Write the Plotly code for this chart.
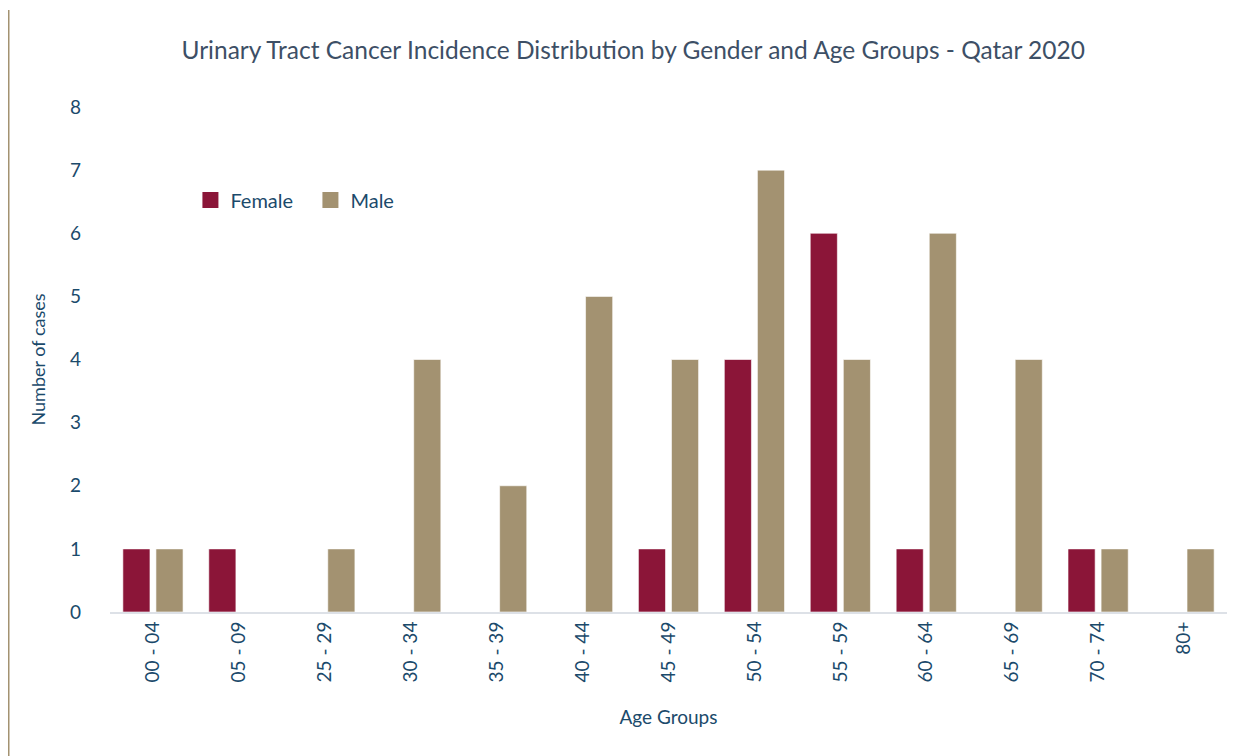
import plotly.graph_objects as go

age_groups = ["00 - 04", "05 - 09", "25 - 29", "30 - 34", "35 - 39", "40 - 44", "45 - 49",
              "50 - 54", "55 - 59", "60 - 64", "65 - 69", "70 - 74", "80+"]
female = [1, 1, None, None, None, None, 1, 4, 6, 1, None, 1, None]
male = [1, None, 1, 4, 2, 5, 4, 7, 4, 6, 4, 1, 1]
series_names = ["Female", "Male"]

FEMALE_C = "#8b1538"
MALE_C = "#a39271"
TEXT_C = "#1b4a6b"
FONT = "Lato, 'Open Sans', sans-serif"

L, R, T, B = 102, 29, 99, 144
W, H = 1248, 748
PW, PH = W - L - R, H - T - B

fig = go.Figure()
for name, vals, col in zip(series_names, [female, male], [FEMALE_C, MALE_C]):
    fig.add_trace(go.Bar(name=name, x=age_groups, y=vals, showlegend=False,
                         marker=dict(color=col, line=dict(color="rgba(255,255,255,0.6)", width=1))))
for name, col in zip(series_names, [FEMALE_C, MALE_C]):
    fig.add_trace(go.Scatter(name=name, x=[None], y=[None], mode="markers",
                             marker=dict(symbol="square", size=18, color=col)))

fig.update_layout(
    width=W, height=H,
    paper_bgcolor="white", plot_bgcolor="white",
    margin=dict(l=L, r=R, t=T, b=B, autoexpand=False),
    barmode="group", bargap=0.23, bargroupgap=0.18,
    font=dict(family=FONT, color=TEXT_C),
    title=dict(text="Urinary Tract Cancer Incidence Distribution by Gender and Age Groups - Qatar 2020",
               x=0.501, xanchor="center", y=(H - 42) / H, yanchor="middle",
               font=dict(size=24.5, color="#3d4f66", family=FONT)),
    legend=dict(orientation="h", x=0.072, y=0.816, xanchor="left", yanchor="middle",
                font=dict(size=20, color=TEXT_C), bgcolor="rgba(0,0,0,0)",
                itemwidth=30, entrywidth=75, entrywidthmode="pixels", traceorder="normal"),
    xaxis=dict(tickangle=-90, tickfont=dict(size=19, color=TEXT_C), showgrid=False,
               showline=True, linecolor="#dde1e7", linewidth=2, ticks="",
               title=dict(text="Age Groups", font=dict(size=19, color=TEXT_C), standoff=29)),
    yaxis=dict(range=[0, 8], dtick=1, showgrid=False, zeroline=False, showline=False,
               tickfont=dict(size=19, color=TEXT_C), ticklabelstandoff=28,
               title=dict(text="Number of cases", font=dict(size=18, color=TEXT_C), standoff=19)),
    shapes=[dict(type="line", xref="paper", yref="paper",
                 x0=(0.75 - L) / PW, x1=(0.75 - L) / PW,
                 y0=-B / PH, y1=(H - 2 - B) / PH,
                 line=dict(color="#a39271", width=1.5))],
)

fig.write_html("out.html")
